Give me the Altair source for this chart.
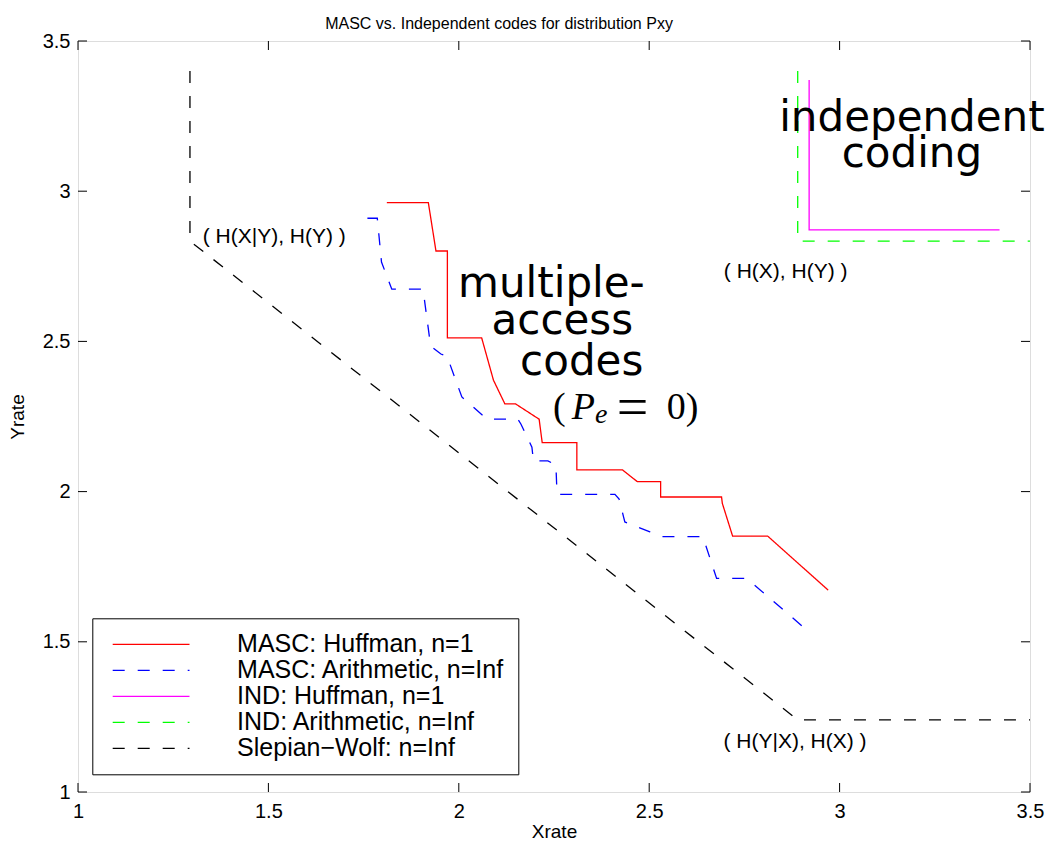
import altair as alt
import pandas as pd

# ---------------- data ----------------
series_names = ["MASC: Huffman, n=1", "MASC: Arithmetic, n=Inf", "IND: Huffman, n=1",
                "IND: Arithmetic, n=Inf", "Slepian\u2212Wolf: n=Inf"]
series_colors = ["#ff0000", "#0000ff", "#ff00ff", "#00ff00", "#000000"]

masc_huff_x = [1.811, 1.920, 1.940, 1.970, 1.970, 2.060, 2.091, 2.121, 2.149, 2.211, 2.219,
               2.310, 2.310, 2.430, 2.469, 2.530, 2.530, 2.690, 2.692, 2.719, 2.811, 2.970]
masc_huff_y = [2.962, 2.962, 2.801, 2.801, 2.512, 2.512, 2.371, 2.292, 2.292, 2.241, 2.163,
               2.163, 2.072, 2.072, 2.033, 2.033, 1.982, 1.982, 1.961, 1.852, 1.852, 1.672]

masc_arith_x = [1.760, 1.786, 1.797, 1.824, 1.906, 1.926, 1.953, 1.969, 2.008, 2.074, 2.155,
                2.163, 2.192, 2.196, 2.234, 2.255, 2.258, 2.410, 2.421, 2.436, 2.502, 2.536,
                2.641, 2.677, 2.756, 2.914]
masc_arith_y = [2.910, 2.910, 2.764, 2.674, 2.674, 2.485, 2.458, 2.451, 2.315, 2.241, 2.241,
                2.225, 2.148, 2.102, 2.102, 2.089, 1.991, 1.991, 1.975, 1.899, 1.866, 1.850,
                1.850, 1.711, 1.711, 1.539]

ind_huff_x = [2.92, 2.92, 3.42]
ind_huff_y = [3.37, 2.871, 2.871]

ind_arith_x = [2.89, 2.89, 3.5]
ind_arith_y = [3.40, 2.834, 2.834]

sw_x = [1.294, 1.294, 2.89, 3.5]
sw_y = [3.40, 2.834, 1.24, 1.24]

x_ticks = [1, 1.5, 2, 2.5, 3, 3.5]
y_ticks = [1, 1.5, 2, 2.5, 3, 3.5]

point_labels = ["( H(X|Y), H(Y) )", "( H(X), H(Y) )", "( H(Y|X), H(X) )"]
point_label_x = [1.3275, 2.696, 2.695]
point_label_y = [2.8475, 2.732, 1.167]

ind_text = ["independent", "coding"]
ind_text_x = [3.19, 3.19]
ind_text_y = [3.201, 3.080]

mac_text = ["multiple-", "access", "codes"]
mac_text_x = [1.998, 2.086, 2.161]
mac_text_y = [2.649, 2.525, 2.388]

# ---------------- build tables ----------------
rows = []
for name, xs, ys in zip(series_names,
                        [masc_huff_x, masc_arith_x, ind_huff_x, ind_arith_x, sw_x],
                        [masc_huff_y, masc_arith_y, ind_huff_y, ind_arith_y, sw_y]):
    for i, (xv, yv) in enumerate(zip(xs, ys)):
        rows.append({"series": name, "order": i, "x": xv, "y": yv})
df = pd.DataFrame(rows)

W, H = 952, 751
TL = 9  # tick length (inward)

xscale = alt.Scale(domain=[1, 3.5], nice=False, zero=False)
yscale = alt.Scale(domain=[1, 3.5], nice=False, zero=False)

xaxis = alt.Axis(values=x_ticks, format="~g", ticks=False, domain=False, grid=False,
                 labelFont="Liberation Sans", labelFontSize=20, labelPadding=9,
                 labelFlush=False, labelColor="black",
                 title="Xrate", titleFont="Liberation Sans", titleFontSize=19,
                 titleFontWeight="normal", titleColor="black", titlePadding=1)
yaxis = alt.Axis(values=y_ticks, format="~g", ticks=False, domain=False, grid=False,
                 labelFont="Liberation Sans", labelFontSize=20, labelPadding=8,
                 labelFlush=False, labelColor="black",
                 title="Yrate", titleFont="Liberation Sans", titleFontSize=19,
                 titleFontWeight="normal", titleColor="black", titlePadding=15)

X = lambda f="x": alt.X(f"{f}:Q", scale=xscale, axis=xaxis)
Y = lambda f="y": alt.Y(f"{f}:Q", scale=yscale, axis=yaxis)

legend = alt.Legend(title=None, orient="none", legendX=14.3, legendY=577.3,
                    symbolType="M-3.2,0H3.2", symbolSize=576, symbolStrokeWidth=1.3,
                    symbolOffset=32.8, labelOffset=73, padding=13, rowPadding=0,
                    labelFont="Liberation Sans", labelFontSize=25, labelColor="black",
                    labelLimit=600, strokeColor="black", fillColor="white",
                    cornerRadius=0)

dash_range = [[1, 0], [12, 13], [1, 0], [12, 13], [12, 13]]

lines = alt.Chart(df).mark_line(strokeWidth=1.3).encode(
    x=X(), y=Y(),
    color=alt.Color("series:N", scale=alt.Scale(domain=series_names, range=series_colors),
                    legend=legend),
    strokeDash=alt.StrokeDash("series:N", scale=alt.Scale(domain=series_names, range=dash_range),
                              legend=legend),
    order="order:Q",
)

xt = pd.DataFrame({"x": x_ticks})
yt = pd.DataFrame({"y": y_ticks})
tick_bottom = alt.Chart(xt).mark_rule(color="black", strokeWidth=1).encode(
    x=X(), y=alt.value(H), y2=alt.value(H - TL))
tick_top = alt.Chart(xt).mark_rule(color="black", strokeWidth=1).encode(
    x=X(), y=alt.value(0), y2=alt.value(TL))
tick_left = alt.Chart(yt).mark_rule(color="black", strokeWidth=1).encode(
    y=Y(), x=alt.value(0), x2=alt.value(TL))
tick_right = alt.Chart(yt).mark_rule(color="black", strokeWidth=1).encode(
    y=Y(), x=alt.value(W), x2=alt.value(W - TL))

pl = pd.DataFrame({"t": point_labels, "x": point_label_x, "y": point_label_y})
t_points = alt.Chart(pl).mark_text(font="Liberation Sans", fontSize=21, align="left",
                                   baseline="middle", color="black").encode(
    x=X(), y=Y(), text="t:N")

it = pd.DataFrame({"t": ind_text, "x": ind_text_x, "y": ind_text_y})
t_ind = alt.Chart(it).mark_text(font="DejaVu Sans", fontSize=42, align="center",
                                baseline="alphabetic", color="black").encode(
    x=X(), y=Y(), text="t:N")

mt = pd.DataFrame({"t": mac_text, "x": mac_text_x, "y": mac_text_y})
t_mac = alt.Chart(mt).mark_text(font="DejaVu Sans", fontSize=42, align="left",
                                baseline="alphabetic", color="black").encode(
    x=X(), y=Y(), text="t:N")

# (P_e = 0) built from pieces
m_paren = pd.DataFrame({"t": ["("], "x": [2.2474], "y": [2.242]})
m_P = pd.DataFrame({"t": ["P"], "x": [2.2964], "y": [2.242]})
m_e = pd.DataFrame({"t": ["e"], "x": [2.3577], "y": [2.2274]})
m_eq = pd.DataFrame({"t": ["="], "x": [2.456], "y": [2.219]})
m_zero = pd.DataFrame({"t": ["0)"], "x": [2.546], "y": [2.242]})

t_paren = alt.Chart(m_paren).mark_text(font="Liberation Serif", fontSize=38, align="left",
                                       baseline="alphabetic", color="black").encode(x=X(), y=Y(), text="t:N")
t_P = alt.Chart(m_P).mark_text(font="Liberation Serif", fontSize=38, fontStyle="italic", align="left",
                               baseline="alphabetic", color="black").encode(x=X(), y=Y(), text="t:N")
t_e = alt.Chart(m_e).mark_text(font="Liberation Serif", fontSize=28, fontStyle="italic", align="left",
                               baseline="alphabetic", color="black").encode(x=X(), y=Y(), text="t:N")
t_eq = alt.Chart(m_eq).mark_text(font="Liberation Serif", fontSize=56, align="center",
                                 baseline="alphabetic", color="black").encode(x=X(), y=Y(), text="t:N")
t_zero = alt.Chart(m_zero).mark_text(font="Liberation Serif", fontSize=38, align="left",
                                     baseline="alphabetic", color="black").encode(x=X(), y=Y(), text="t:N")

chart = alt.layer(
    lines, tick_bottom, tick_top, tick_left, tick_right,
    t_points, t_ind, t_mac, t_paren, t_P, t_e, t_eq, t_zero,
).properties(
    width=W, height=H,
    title=alt.TitleParams("MASC vs. Independent codes for distribution Pxy",
                          font="Liberation Sans", fontSize=16, fontWeight="normal",
                          anchor="middle", color="black", offset=8, dx=-55, dy=22,
                          baseline="alphabetic"),
    autosize=alt.AutoSizeParams(type="none"),
    padding={"left": 70, "top": 33, "right": 15, "bottom": 49},
).configure_view(stroke="black", strokeWidth=1).configure(background="white")

chart.save("out.html", embed_options={"renderer": "svg", "actions": False})
